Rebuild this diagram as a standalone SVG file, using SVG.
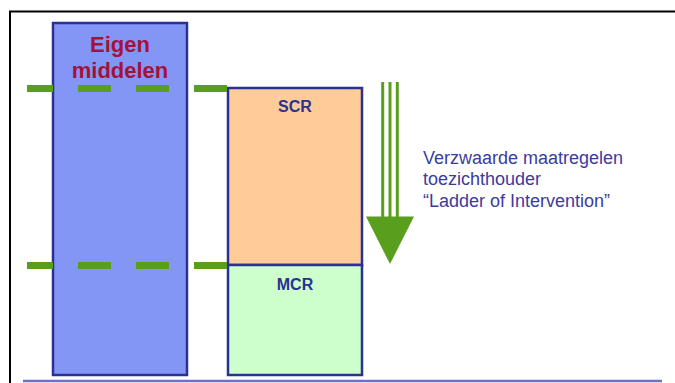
<svg xmlns="http://www.w3.org/2000/svg" width="675" height="383" viewBox="0 0 675 383">
<defs>
<style>
.box{stroke:#2B3192;stroke-width:2.5}
.lbl{font-family:"Liberation Sans",Arial,sans-serif;font-weight:bold;font-size:16px;fill:#2B3192;text-anchor:middle}
.dash{stroke:#5A9E1E;stroke-width:7;stroke-dasharray:33 25;fill:none}
.note{font-family:"Liberation Sans",Arial,sans-serif;font-size:18px;fill:#3B3B9E}
</style>
</defs>
<rect width="675" height="383" fill="#ffffff"/>
<g id="frame">
<path d="M10 383 V11.5 H675" fill="none" stroke="#000" stroke-width="2"/>
<line x1="23" y1="381" x2="662" y2="381" stroke="#6F6FC8" stroke-width="2.5"/>
</g>
<g id="eigen-middelen">
<rect class="box" x="53" y="23" width="134" height="352" fill="#8496F5"/>
<text x="120" y="52" font-family="Liberation Sans,Arial,sans-serif" font-weight="bold" font-size="22" fill="#A3123A" text-anchor="middle">Eigen</text>
<text x="120" y="77.5" font-family="Liberation Sans,Arial,sans-serif" font-weight="bold" font-size="22" fill="#A3123A" text-anchor="middle">middelen</text>
</g>
<g id="scr">
<rect class="box" x="228" y="88" width="134" height="177" fill="#FFCC99"/>
<text class="lbl" x="295" y="112">SCR</text>
</g>
<g id="mcr">
<rect class="box" x="228" y="265" width="134" height="110" fill="#CCFFCC"/>
<text class="lbl" x="295" y="289.5">MCR</text>
</g>
<g id="connectors">
<line class="dash" x1="27" y1="88.5" x2="227" y2="88.5" stroke-dashoffset="7"/>
<line class="dash" x1="27" y1="265.5" x2="227" y2="265.5" stroke-dashoffset="7"/>
</g>
<g id="arrow">
<g stroke="#5A9E1E" stroke-width="3">
<line x1="382.7" y1="82" x2="382.7" y2="218"/>
<line x1="390" y1="82" x2="390" y2="218"/>
<line x1="397.3" y1="82" x2="397.3" y2="218"/>
</g>
<polygon points="366,216.5 414,216.5 390,264" fill="#5A9E1E"/>
</g>
<g id="note">
<text class="note" x="423" y="164">Verzwaarde maatregelen</text>
<text class="note" x="423" y="185">toezichthouder</text>
<text class="note" x="423" y="206.5">“Ladder of Intervention”</text>
</g>
</svg>
